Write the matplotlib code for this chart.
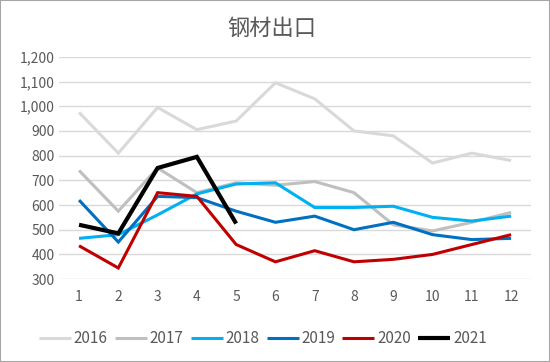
import matplotlib
matplotlib.use("Agg")
import matplotlib.pyplot as plt
from matplotlib.patches import Rectangle

plt.rcParams['font.family'] = ['Noto Sans CJK SC', 'DejaVu Sans']

months = [1, 2, 3, 4, 5, 6, 7, 8, 9, 10, 11, 12]
y2016 = [975, 810, 995, 905, 940, 1095, 1030, 900, 880, 770, 810, 780]
y2017 = [740, 575, 750, 650, 690, 680, 695, 650, 520, 495, 530, 570]
y2018 = [465, 480, 560, 645, 685, 690, 590, 590, 595, 550, 535, 555]
y2019 = [620, 450, 635, 630, 575, 530, 555, 500, 530, 480, 460, 465]
y2020 = [435, 345, 650, 635, 440, 370, 415, 370, 380, 400, 440, 480]
y2021 = [520, 485, 750, 795, 525]

series = [
    ("2016", y2016, "#D9D9D9", 2.2),
    ("2017", y2017, "#BFBFBF", 2.2),
    ("2018", y2018, "#00B0F0", 2.2),
    ("2019", y2019, "#0070C0", 2.2),
    ("2020", y2020, "#C00000", 2.2),
    ("2021", y2021, "#000000", 3.0),
]

fig = plt.figure(figsize=(5.5, 3.62), dpi=100)
ax = fig.add_axes([0.108, 0.229, 0.857, 0.614])

for name, vals, color, lw in series:
    ax.plot(months[:len(vals)], vals, color=color, lw=lw, label=name,
            solid_joinstyle='miter', solid_capstyle='butt')

ax.set_xlim(0.5, 12.5)
ax.set_ylim(300, 1200)
ax.set_xticks(months)
ax.set_yticks(range(300, 1201, 100))
ax.set_yticklabels([f"{v:,}" for v in range(300, 1201, 100)])
ax.grid(axis='y', color='#D9D9D9', lw=1)
ax.set_axisbelow(True)
for s in ax.spines.values():
    s.set_visible(False)
ax.tick_params(length=0, colors='#595959', labelsize=10)
ax.tick_params(axis='x', pad=8)

fig.text(0.495, 0.922, "钢材出口", ha='center', va='center',
         fontsize=16, color='#595959')

fig.legend(loc='center', bbox_to_anchor=(0.478, 0.064), ncol=6, frameon=False,
           fontsize=11, labelcolor='#595959', handlelength=2.1,
           handletextpad=0.2, columnspacing=0.45)

fig.patches.append(Rectangle((0, 0), 1, 1, transform=fig.transFigure,
                             fill=False, edgecolor='#A6A6A6', lw=1.5))

fig.savefig("out.png", dpi=100)
